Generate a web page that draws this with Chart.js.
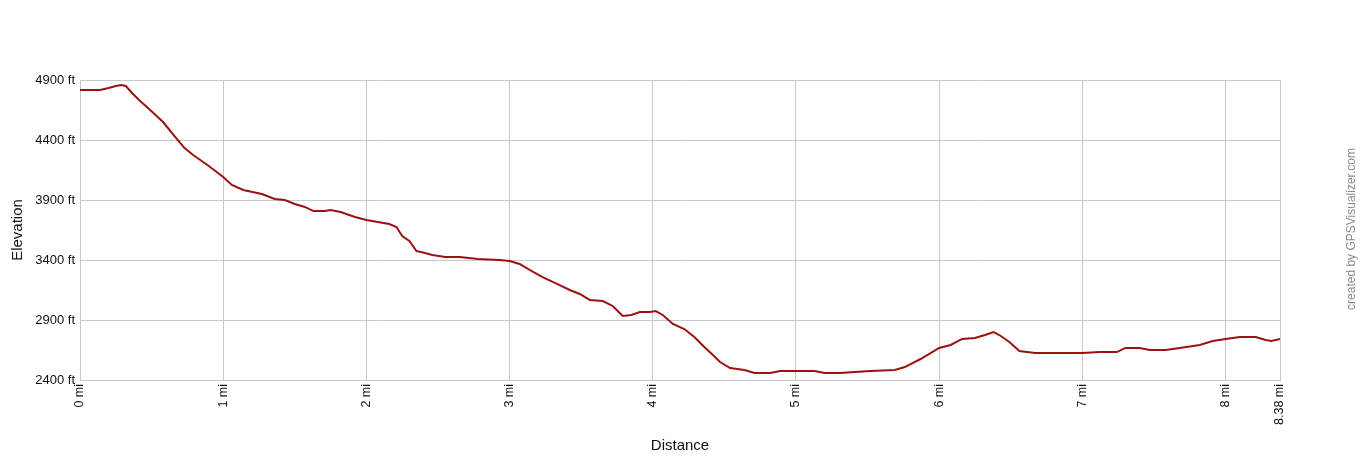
<!DOCTYPE html>
<html>
<head>
<meta charset="utf-8">
<script src="https://cdn.jsdelivr.net/npm/chart.js@4"></script>
<style>
html,body{margin:0;padding:0;background:#fff;}
#wrap{position:relative;width:1360px;height:460px;}
</style>
</head>
<body>
<div id="wrap"><canvas id="c" width="1360" height="460"></canvas></div>
<script>
const distanceMi = [0,0.14,0.2,0.25,0.29,0.32,0.37,0.42,0.49,0.58,0.66,0.73,0.79,0.89,1.0,1.06,1.14,1.27,1.36,1.43,1.5,1.57,1.63,1.71,1.75,1.82,1.92,2.0,2.08,2.16,2.21,2.25,2.3,2.35,2.41,2.46,2.55,2.65,2.78,2.93,3.0,3.07,3.14,3.23,3.32,3.42,3.49,3.56,3.65,3.72,3.79,3.85,3.91,3.98,4.02,4.07,4.14,4.22,4.29,4.36,4.42,4.47,4.54,4.64,4.71,4.82,4.89,5.03,5.13,5.2,5.31,5.41,5.52,5.69,5.76,5.87,6.0,6.08,6.16,6.25,6.32,6.38,6.42,6.49,6.56,6.67,6.84,7.0,7.12,7.24,7.3,7.4,7.47,7.58,7.68,7.82,7.91,8.0,8.1,8.21,8.28,8.32,8.38];
const elevationFt = [4817,4817,4833,4850,4858,4850,4783,4725,4650,4550,4433,4333,4275,4192,4092,4025,3983,3950,3908,3900,3867,3842,3808,3808,3817,3800,3758,3733,3717,3700,3675,3600,3558,3475,3458,3442,3425,3425,3408,3400,3392,3367,3317,3258,3208,3150,3117,3067,3058,3017,2933,2942,2967,2967,2975,2942,2867,2825,2758,2675,2608,2550,2500,2483,2458,2458,2475,2475,2475,2458,2458,2467,2475,2483,2508,2575,2667,2692,2742,2750,2775,2800,2775,2717,2642,2625,2625,2625,2633,2633,2667,2667,2650,2650,2667,2692,2725,2742,2758,2758,2733,2725,2742];
const xTickValues = [0,1,2,3,4,5,6,7,8,8.38];
const yTickValues = [2400,2900,3400,3900,4400,4900];
const xTitle = 'Distance';
const yTitle = 'Elevation';
const credit = 'created by GPSVisualizer.com';

const FONT = "'Liberation Sans', Arial, sans-serif";
const points = distanceMi.map((d,i)=>({x:d,y:elevationFt[i]}));

const creditPlugin = {
  id:'credit',
  afterDraw(chart){
    const ctx = chart.ctx;
    ctx.save();
    ctx.translate(1352, 229);
    ctx.rotate(-Math.PI/2);
    ctx.fillStyle = '#8a8a8a';
    ctx.font = '12px ' + FONT;
    ctx.textAlign = 'center';
    ctx.textBaseline = 'middle';
    ctx.fillText(credit, 0, 0);
    ctx.restore();
  }
};

new Chart(document.getElementById('c'), {
  type:'line',
  data:{datasets:[{data:points,borderColor:'#9a1212',borderWidth:2,pointRadius:0,tension:0,fill:false}]},
  plugins:[creditPlugin],
  options:{
    responsive:false,
    animation:false,
    layout:{padding:{left:0,top:80,right:80,bottom:0}},
    plugins:{legend:{display:false},tooltip:{enabled:false}},
    scales:{
      x:{
        type:'linear',min:0,max:8.38,
        afterBuildTicks(s){ s.ticks = xTickValues.map(v=>({value:v})); },
        afterFit(s){ s.height = 80; },
        grid:{color:'#c8c8c8',lineWidth:1,drawTicks:false},
        border:{color:'#c8c8c8'},
        ticks:{minRotation:90,maxRotation:90,padding:4,autoSkip:false,color:'#111',font:{family:FONT,size:12.5},
          callback:(v)=> v + ' mi'},
        title:{display:true,text:xTitle,color:'#111',font:{family:FONT,size:15},padding:{top:0,bottom:5}}
      },
      y:{
        min:2400,max:4900,
        afterBuildTicks(s){ s.ticks = yTickValues.map(v=>({value:v})); },
        afterFit(s){ s.width = 80; },
        grid:{color:'#c8c8c8',lineWidth:1,drawTicks:false},
        border:{color:'#c8c8c8'},
        ticks:{padding:5,color:'#111',font:{family:FONT,size:13},callback:(v)=> v + ' ft'},
        title:{display:true,text:yTitle,color:'#111',font:{family:FONT,size:15},padding:{top:9,bottom:0}}
      }
    }
  }
});
</script>
</body>
</html>
